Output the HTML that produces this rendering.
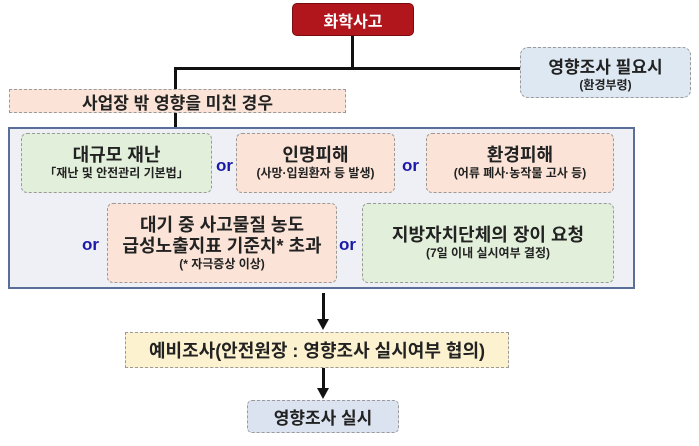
<!DOCTYPE html>
<html><head><meta charset="utf-8"><style>
body{margin:0;width:699px;height:446px;background:#fff;position:relative;overflow:hidden;font-family:"Liberation Sans","Noto Sans CJK KR",sans-serif;}
.b{position:absolute;box-sizing:border-box;display:flex;flex-direction:column;align-items:center;justify-content:center;text-align:center;color:#222;border:1px dashed #9a9a9a;}
.ln{position:absolute;background:#111;}
.or{position:absolute;color:#1a1aa8;font-weight:bold;font-size:17px;}
.t{font-size:18px;font-weight:bold;line-height:21px}
.s{font-size:12px;line-height:15px;font-weight:bold}
</style></head><body>
<div class="ln" style="left:351px;top:35px;width:3px;height:34px"></div>
<div class="ln" style="left:174px;top:67px;width:347px;height:3px"></div>
<div class="ln" style="left:174px;top:67px;width:3px;height:22px"></div>
<div class="ln" style="left:174px;top:113px;width:3px;height:14px"></div>
<div class="b" style="left:292px;top:3px;width:122px;height:33px;background:#b0161c;border:1px solid #7a0b0e;border-radius:5px;color:#fff;font-size:16px;font-weight:bold">화학사고</div>
<div class="b" style="left:520px;top:47px;width:171px;height:51px;background:#dee8f3;border-radius:8px"><div style="font-size:17px;font-weight:bold">영향조사 필요시</div><div class="s">(환경부령)</div></div>
<div class="b" style="left:9px;top:89px;width:337px;height:24px;background:#fbe4d7;font-size:17px;font-weight:bold">사업장 밖 영향을 미친 경우</div>
<div style="position:absolute;left:8px;top:127px;width:627px;height:162px;box-sizing:border-box;background:#eef0f5;border:2px solid #5a6e9a"></div>
<div class="b" style="left:21px;top:133px;width:191px;height:60px;background:#e2efda;border-radius:6px"><div class="t">대규모 재난</div><div class="s">「재난 및 안전관리 기본법」</div></div>
<div class="or" style="left:216px;top:156px">or</div>
<div class="b" style="left:236px;top:133px;width:159px;height:60px;background:#fbe4d7;border-radius:6px"><div class="t">인명피해</div><div class="s">(사망·입원환자 등 발생)</div></div>
<div class="or" style="left:402px;top:156px">or</div>
<div class="b" style="left:426px;top:133px;width:188px;height:60px;background:#fbe4d7;border-radius:6px"><div class="t">환경피해</div><div class="s">(어류 폐사·농작물 고사 등)</div></div>
<div class="or" style="left:82px;top:235px">or</div>
<div class="b" style="left:107px;top:203px;width:230px;height:80px;background:#fbe4d7;border-radius:6px"><div class="t">대기 중 사고물질 농도</div><div class="t">급성노출지표 기준치* 초과</div><div class="s">(* 자극증상 이상)</div></div>
<div class="or" style="left:339px;top:235px">or</div>
<div class="b" style="left:362px;top:203px;width:252px;height:80px;background:#e2efda;border-radius:6px"><div class="t">지방자치단체의 장이 요청</div><div class="s">(7일 이내 실시여부 결정)</div></div>
<div class="ln" style="left:322px;top:293px;width:3px;height:28px"></div>
<div style="position:absolute;left:317px;top:319px;border-left:6px solid transparent;border-right:6px solid transparent;border-top:11px solid #111"></div>
<div class="b" style="left:125px;top:332px;width:384px;height:36px;background:#fdf2d0;font-size:18px;font-weight:bold">예비조사(안전원장 : 영향조사 실시여부 협의)</div>
<div class="ln" style="left:322px;top:368px;width:3px;height:22px"></div>
<div style="position:absolute;left:317px;top:388px;border-left:6px solid transparent;border-right:6px solid transparent;border-top:11px solid #111"></div>
<div class="b" style="left:247px;top:400px;width:152px;height:33px;background:#dce3f0;border-radius:5px;font-size:17px;font-weight:bold">영향조사 실시</div>
</body></html>
